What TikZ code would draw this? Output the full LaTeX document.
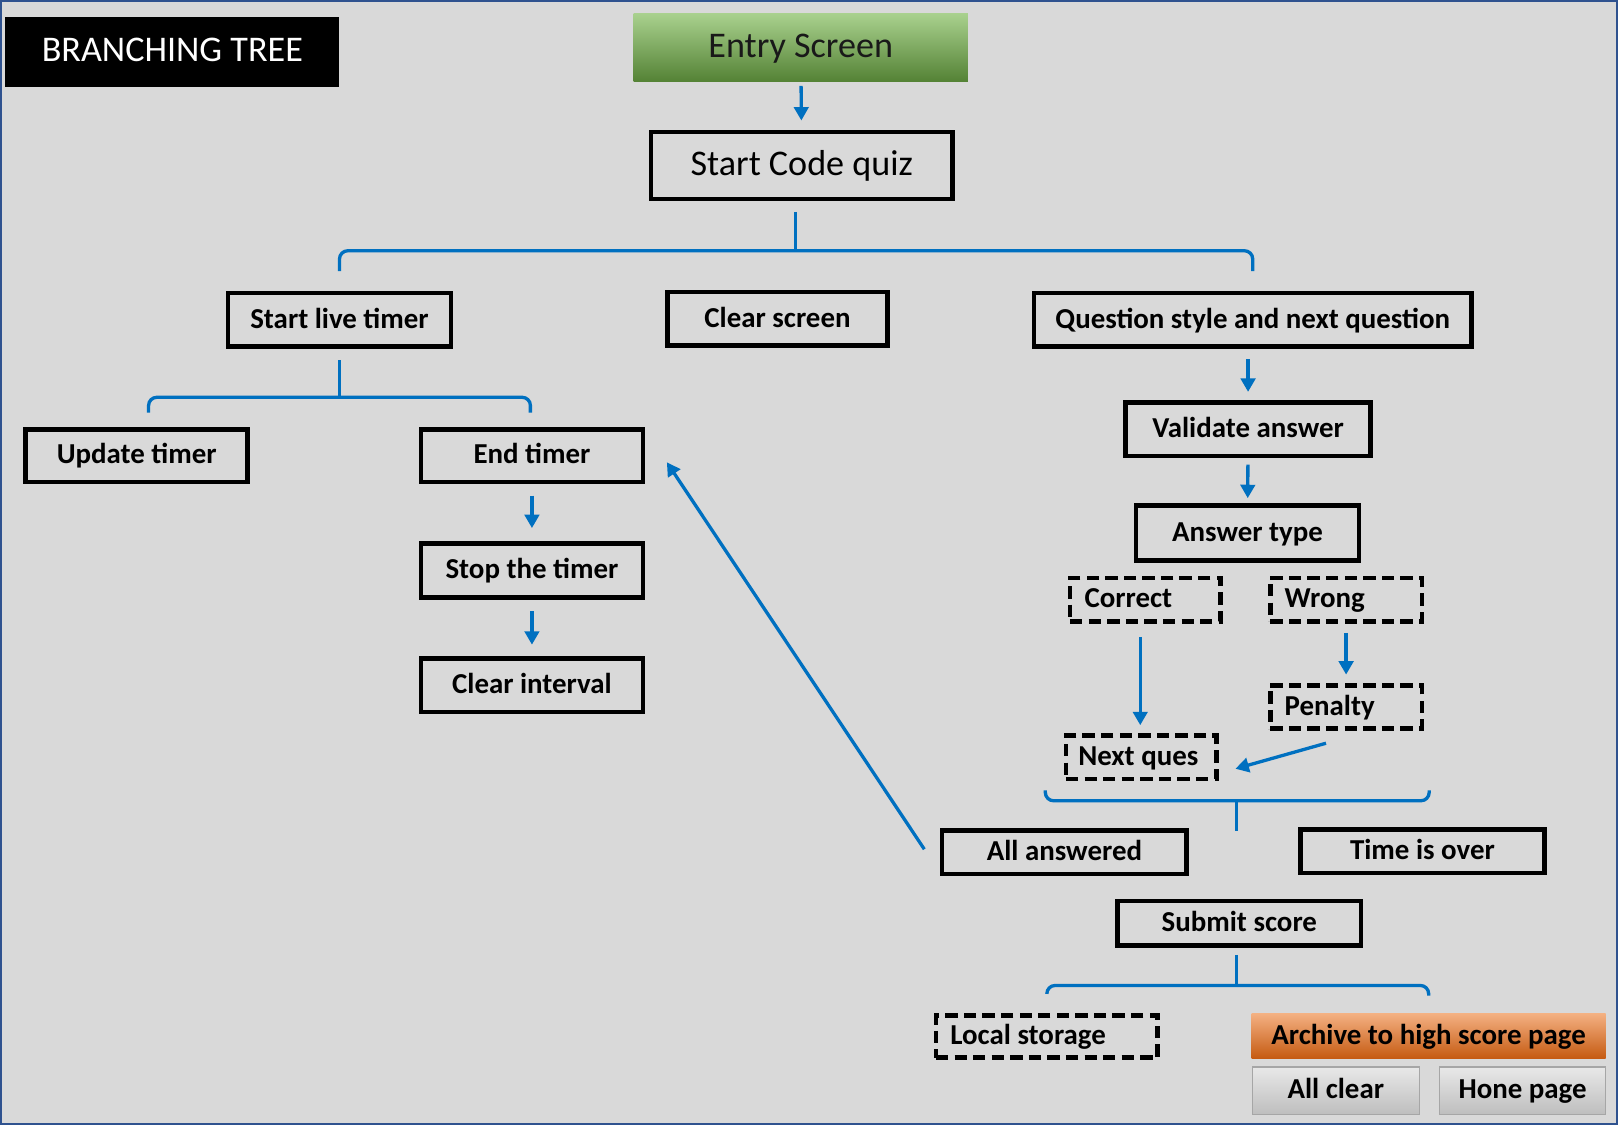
\documentclass[tikz,border=0pt]{standalone}
\usepackage{fontspec}
\setmainfont{Carlito}
\usetikzlibrary{arrows.meta}

\definecolor{bg}{RGB}{217,217,217}
\definecolor{frame}{RGB}{47,82,143}
\definecolor{linkblue}{RGB}{0,112,192}
\definecolor{greentop}{RGB}{169,209,142}
\definecolor{greenbot}{RGB}{84,130,53}
\definecolor{orangetop}{RGB}{244,177,131}
\definecolor{orangebot}{RGB}{197,90,17}
\definecolor{btntop}{RGB}{232,232,232}
\definecolor{btnbot}{RGB}{190,190,190}

\begin{document}
\begin{tikzpicture}[x=1pt, y=-1pt,
  box/.style={draw=black, line width=4.5pt, inner sep=0pt, minimum height=52pt,
    text height=21pt, text depth=5pt, font=\bfseries\fontsize{28}{34}\selectfont},
  bigbox/.style={box, text height=26pt, text depth=6pt, font=\fontsize{35}{42}\selectfont},
  dashbox/.style={box, dash pattern=on 12pt off 6pt, inner xsep=14pt,
    align=flush left, minimum height=42pt},
  btn/.style={draw=gray!70, line width=1pt, top color=btntop, bottom color=btnbot,
    inner sep=0pt, minimum width=162pt, minimum height=46pt, text height=21pt, text depth=5pt,
    font=\bfseries\fontsize{28}{34}\selectfont},
  arr/.style={draw=linkblue, line width=3.2pt, -{Triangle[length=13pt,width=14pt]}},
  brace/.style={draw=linkblue, line width=3.2pt, rounded corners=8pt}]

\useasboundingbox (0,0) rectangle (1568,1090);
\fill[bg] (0,0) rectangle (1568,1090);
\draw[frame, line width=2pt] (1,1) rectangle (1567,1089);

\node[fill=black, text=white, inner sep=0pt, minimum width=324pt, minimum height=68pt,
  text height=26pt, text depth=6pt, font=\fontsize{35}{42}\selectfont] (ttl) at (167,50) {BRANCHING TREE};
\node[top color=greentop, bottom color=greenbot, inner sep=0pt, minimum width=324pt,
  minimum height=66pt, text height=26pt, text depth=6pt, text=black!90,
  font=\fontsize{35}{42}\selectfont] (ent) at (776,46) {Entry Screen};
\node[bigbox, minimum width=292pt, minimum height=65pt] (scq) at (777,160.5) {Start Code quiz};

\node[box, minimum width=216pt] (slt) at (329,310) {Start live timer};
\node[box, minimum width=213pt] (clr) at (753.5,309) {Clear screen};
\node[box, minimum width=424pt] (qsn) at (1214,310) {Question style and next question};

\node[box, minimum width=215pt, minimum height=51pt] (upd) at (132.5,441.5) {Update timer};
\node[box, minimum width=215pt, minimum height=51pt] (endt) at (515.5,441.5) {End timer};
\node[box, minimum width=215pt] (stp) at (515.5,553) {Stop the timer};
\node[box, minimum width=215pt] (cint) at (515.5,664) {Clear interval};

\node[box, minimum width=237pt] (val) at (1209.5,416) {Validate answer};
\node[box, minimum width=216pt, minimum height=53pt] (aty) at (1209,516.5) {Answer type};
\node[dashbox, text width=118pt] (cor) at (1110,581) {Correct};
\node[dashbox, text width=119pt] (wrg) at (1304.5,581) {Wrong};
\node[dashbox, text width=119pt] (pen) at (1304.5,685) {Penalty};
\node[dashbox, inner xsep=12pt, text width=122pt] (nxq) at (1106,734) {Next ques};

\node[box, minimum width=237pt, minimum height=42pt] (alla) at (1031.5,826) {All answered};
\node[box, minimum width=237pt, minimum height=42pt] (tio) at (1378.5,825) {Time is over};
\node[box, minimum width=236pt, minimum height=43pt] (sub) at (1201,894.5) {Submit score};

\node[dashbox, text width=187pt, minimum height=41pt] (loc) at (1014.5,1004.5) {Local storage};
\node[top color=orangetop, bottom color=orangebot, inner sep=0pt, minimum width=343pt,
  minimum height=44pt, text height=21pt, text depth=5pt,
  font=\bfseries\fontsize{28}{34}\selectfont] (arc) at (1384.5,1004) {Archive to high score page};
\node[btn] (alc) at (1294.5,1057) {All clear};
\node[btn, minimum width=161pt] (hpg) at (1475.5,1057) {Hone page};

% Arrows
\draw[arr, shorten <=4pt, shorten >=9pt] (ent) -- (scq);
\draw[arr, shorten <=11pt, shorten >=13pt] (endt) -- (stp);
\draw[arr, shorten <=11pt, shorten >=11pt] (stp) -- (cint);
\draw[arr, shorten <=10pt, shorten >=8pt] (qsn.south -| val.north) -- (val.north);
\draw[arr, shorten <=6pt, shorten >=5pt] (val) -- (aty);
\draw[arr] ([xshift=-5pt,yshift=-13pt]cor.south) -- ([xshift=-1pt,yshift=8pt]nxq.north);
\draw[arr, shorten <=9pt, shorten >=8pt] (wrg) -- (pen);
\draw[arr] ([xshift=-19.5pt,yshift=-12pt]pen.south) -- ([xshift=16pt,yshift=-11pt]nxq.east);
\draw[arr] ([xshift=-15pt,yshift=3pt]alla.west) -- ([xshift=21pt,yshift=-6.5pt]endt.east);

% Brackets
\coordinate (r1) at (771,243);
\draw[brace, shorten <=10pt] (scq.south -| r1) -- (r1);
\draw[brace] ([yshift=19pt]slt.north) |- (r1) -| ([yshift=19pt]qsn.north);

\coordinate (r2) at (329,385);
\draw[brace, shorten <=11pt] (slt.south) -- (r2);
\draw[brace] ([xshift=11.5pt,yshift=14pt]upd.north) |- (r2) -| ([xshift=-1.5pt,yshift=14pt]endt.north);

\coordinate (r3) at (1198,776);
\coordinate (b3l) at (1013,766);
\coordinate (b3r) at (1385,766);
\coordinate (b3s) at (1198,805);
\draw[brace] (b3l) |- (r3) -| (b3r);
\draw[brace] (r3) -- (b3s);

\coordinate (r4) at (1198,955);
\draw[brace, shorten <=7pt] (sub.south -| r4) -- (r4);
\draw[brace] ([yshift=19pt]loc.north) |- (r4) -| ([yshift=17pt]arc.north);

\end{tikzpicture}
\end{document}
